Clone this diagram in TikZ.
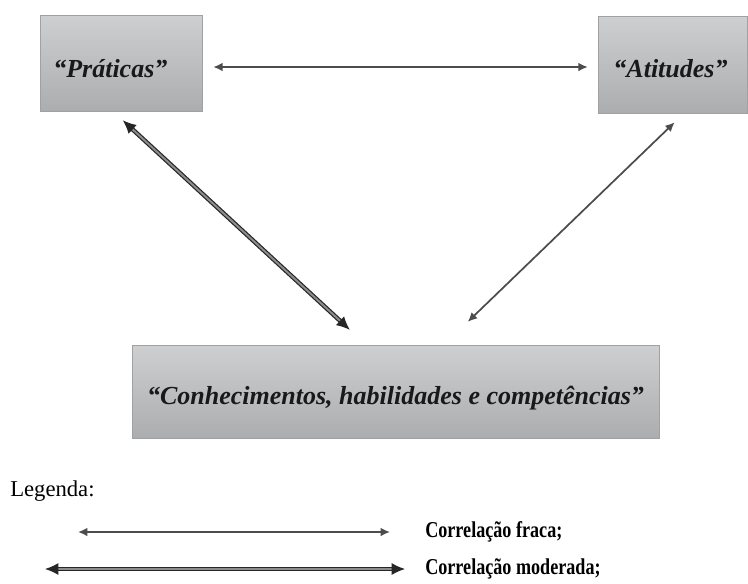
\documentclass[tikz,border=0pt]{standalone}
\usepackage{fontspec}
\setmainfont{Liberation Serif}
\newfontfamily\legfont[FakeStretch=0.8]{Liberation Serif}
\usetikzlibrary{arrows.meta,calc}
\definecolor{cinzaA}{RGB}{206,207,208}
\definecolor{cinzaB}{RGB}{172,173,175}
\definecolor{borda}{RGB}{160,161,163}
\tikzstyle{cx}=[draw = borda, top color = cinzaA, bottom color = cinzaB, text = black!90, inner sep = 0, font = \fontsize{19.5}{21}\selectfont\bfseries\itshape]
\tikzstyle{fraca}=[draw = black!70, line width = 1.3pt, >={Latex[length=7pt,width=6.5pt]}, <->]
\tikzstyle{moder}=[draw = black!85, line width = .9pt, double = black!45, double distance = 1.5pt, >={Latex[length=10pt,width=9pt]}, <->]
\tikzstyle{leg}=[anchor = west, inner sep = 0, font = \legfont\fontsize{17}{19}\selectfont\bfseries]

\begin{document}
\begin{tikzpicture}[x = .75pt, y = -.75pt]
\useasboundingbox (0,0) rectangle (748,583);
\node (prat) at (121, 63) [cx, minimum width = 121.5pt, minimum height = 72pt] {\raisebox{-10.5pt}[0pt][0pt]{“Práticas”}\hspace*{16pt}};
\node (atit) at (672.5, 64.5) [cx, minimum width = 111.75pt, minimum height = 72.75pt] {\raisebox{-10pt}[0pt][0pt]{“Atitudes”}\hspace*{3pt}};
\node (conh) at (395.5, 391.5) [cx, minimum width = 395.25pt, minimum height = 69.75pt] {\raisebox{-10pt}[0pt][0pt]{“Conhecimentos, habilidades e competências”}};
%%%%%%%%%%%%%%%%%%%%%%%
\draw [fraca, shorten < = 8.25pt, shorten > = 7.5pt] ($(prat.east)+(0,4)$) -- ($(atit.west)+(0,2.5)$);
\draw [moder, shorten < = 10pt, shorten > = 16.5pt] ($(prat.south)+(-8,0)$) -- ($(conh.north)+(-29.5,0)$);
\draw [fraca, shorten < = 9.75pt, shorten > = 24.75pt] ($(atit.south)+(11.5,0)$) -- ($(conh.north)+(48.5,0)$);
%%%%%%%%%%%%%%%%%%%%%%%
\node (leg) at (10, 491) [anchor = west, inner sep = 0, font = \fontsize{17}{19}\selectfont] {Legenda:};
\coordinate (f1) at (78, 532);
\coordinate (f2) at (390, 532);
\draw [fraca] (f1) -- (f2);
\node (tf) at (425, 532) [leg] {Correlação fraca;};
\coordinate (m1) at (45, 569);
\coordinate (m2) at (405, 569);
\draw [moder] (m1) -- (m2);
\node (tm) at (425, 569) [leg] {Correlação moderada;};
\end{tikzpicture}
\end{document}
